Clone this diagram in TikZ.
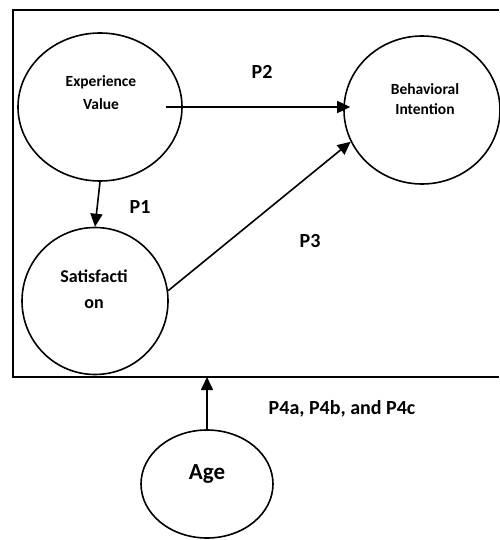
\documentclass[tikz,border=0pt]{standalone}
\usepackage{fontspec}
\setmainfont{Carlito}
\usetikzlibrary{shapes.geometric,arrows.meta}

\begin{document}
\begin{tikzpicture}[x=1pt, y=-1pt, line width=1.6pt,
                    construct/.style={draw, ellipse, inner sep=0pt},
                    ctext/.style={align=center, font=\bfseries, inner sep=0pt},
                    plabel/.style={font=\fontsize{20}{24}\selectfont\bfseries, inner sep=0pt},
                    link/.style={-{Triangle[length=13pt,width=12pt]}}]
	\useasboundingbox (0,0) rectangle (499,540);
	% moderated frame, open on the right
	\coordinate (ftr) at (499,10);
	\coordinate (ftl) at (13,10);
	\coordinate (fbl) at (13,377);
	\coordinate (fbr) at (499,377);
	\draw (ftr) -- (ftl) -- (fbl) -- (fbr);
	% constructs
	\node[construct, minimum width=164pt, minimum height=148pt] (ev) at (100,107) {};
	\node[construct, minimum width=156pt, minimum height=148pt] (bi) at (422,110) {};
	\node[construct, minimum width=146pt, minimum height=147pt] (sat) at (95,301) {};
	\node[construct, minimum width=132pt, minimum height=108pt] (age) at (207,484) {};
	\node[ctext, font=\fontsize{15.5}{23}\selectfont\bfseries] (evtext) at (101,93) {Experience\\Value};
	\node[ctext, font=\fontsize{15.5}{20}\selectfont\bfseries] (bitext) at (425,99) {Behavioral\\Intention};
	\node[ctext, font=\fontsize{18}{26}\selectfont\bfseries] (sattext) at (94,289) {Satisfacti\\on};
	\node[ctext, font=\fontsize{23}{26}\selectfont\bfseries] (agetext) at (207,474) {Age};
	% paths
	\path[link] ([xshift=-17pt]ev.east) edge[shorten >=-7pt] (bi.west |- ev.east)
	            (ev.south) edge (sat.north)
	            (sat.8) edge (bi.204)
	            (age.north) edge (age.north |- fbl);
	\node[plabel] (p1) at (140,207) {P1};
	\node[plabel] (p2) at (262,72) {P2};
	\node[plabel] (p3) at (310,241) {P3};
	\node[plabel] (p4) at (342,409) {P4a, P4b, and P4c};
\end{tikzpicture}
\end{document}
